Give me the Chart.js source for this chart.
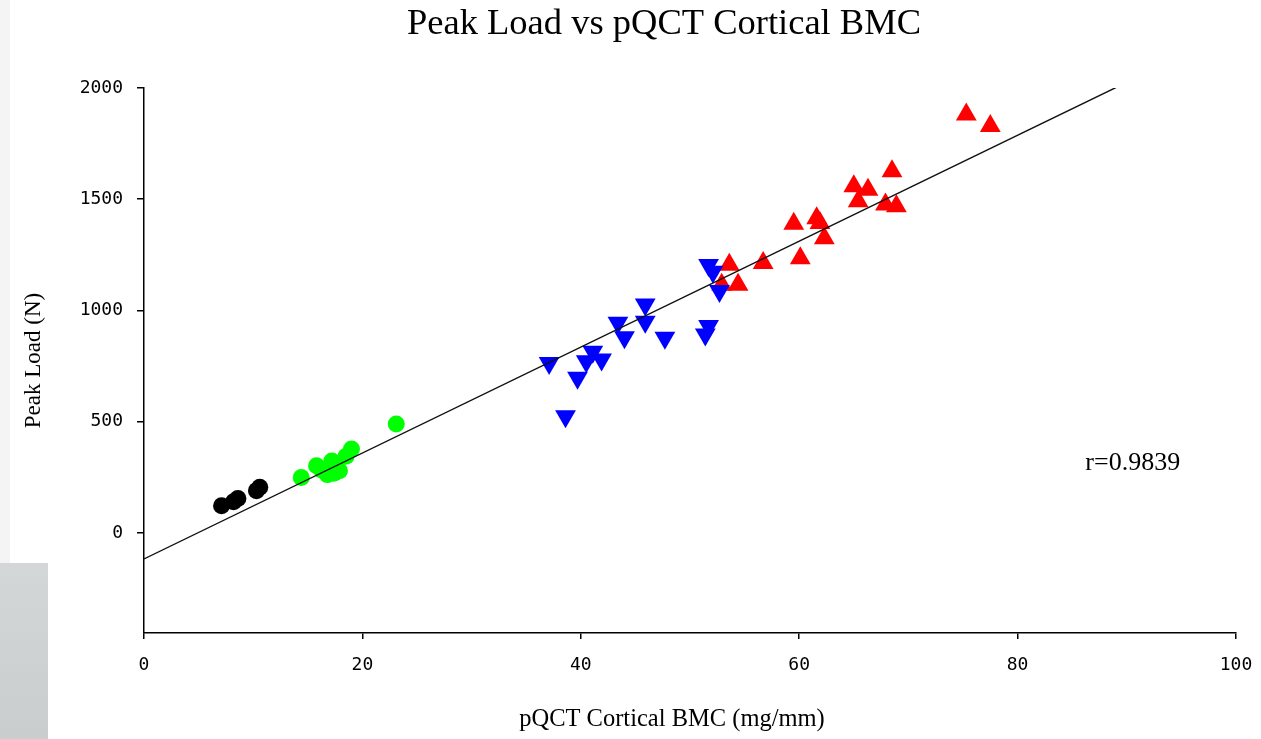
<!DOCTYPE html>
<html>
<head>
<meta charset="utf-8">
<title>Peak Load vs pQCT Cortical BMC</title>
<script src="https://cdn.jsdelivr.net/npm/chart.js@4"></script>
<style>
  html, body { margin: 0; padding: 0; background: #fff; }
  #wrap { position: relative; width: 1261px; height: 739px; overflow: hidden; }
  .strip { position: absolute; left: 0; top: 0; width: 10px; height: 563px; background: #f4f4f4; }
  .box { position: absolute; left: 0; top: 563px; width: 48px; height: 176px; background: linear-gradient(#d4d7d8, #c9cdce); }
  #chart { position: absolute; left: 0; top: 0; }
</style>
</head>
<body>
<div id="wrap">
  <div class="strip"></div>
  <div class="box"></div>
  <canvas id="chart" width="1261" height="739"></canvas>
</div>
<script>
// groups (BMC in mg/mm, load in N)
const blackX = [7.1, 8.2, 8.6, 10.3, 10.6];
const blackY = [122, 140, 155, 190, 205];

const greenX = [14.4, 15.8, 16.3, 16.8, 17.2, 17.4, 17.9, 18.5, 19.0, 23.1];
const greenY = [249, 302, 282, 262, 323, 268, 279, 345, 377, 490];

const blueX = [37.1, 38.6, 39.7, 40.5, 41.1, 41.9, 43.4, 44.0, 45.9, 45.9, 47.7, 51.7, 51.4, 51.7, 52.1, 52.7];
const blueY = [764, 524, 697, 772, 814, 779, 945, 880, 1027, 949, 877, 930, 892, 1204, 1174, 1087];

const redX = [53.6, 52.9, 54.4, 56.7, 60.1, 59.5, 61.6, 61.9, 62.3, 65.0, 66.3, 65.4, 67.9, 68.9, 68.5, 75.3, 77.5];
const redY = [1205, 1115, 1115, 1213, 1235, 1390, 1415, 1393, 1325, 1558, 1543, 1491, 1476, 1468, 1626, 1881, 1829];

// regression line end points
const fitX = [0, 89];
const fitY = [-117, 2002];

const xTicks = [0, 20, 40, 60, 80, 100];
const yTicks = [0, 500, 1000, 1500, 2000];

const titleText = 'Peak Load vs pQCT Cortical BMC';
const xTitle = 'pQCT Cortical BMC (mg/mm)';
const yTitle = 'Peak Load (N)';
const rLabel = 'r=0.9839';

const pts = (xs, ys) => xs.map((x, i) => ({ x: x, y: ys[i] }));

const serif = '"Liberation Serif", "Times New Roman", serif';
const tickFont = { family: '"DejaVu Sans Mono", monospace', size: 18 };

const textPlugin = {
    id: 'chartTexts',
    afterDraw(chart) {
        const ctx = chart.ctx;
        const { x, y } = chart.scales;
        ctx.save();
        ctx.fillStyle = '#000';
        ctx.textAlign = 'center';
        ctx.textBaseline = 'middle';
        ctx.font = '36.5px ' + serif;
        ctx.fillText(titleText, 664, 24);
        ctx.font = '24.5px ' + serif;
        ctx.fillText(xTitle, 672, 720);
        ctx.textAlign = 'left';
        ctx.font = '26px ' + serif;
        ctx.fillText(rLabel, x.getPixelForValue(86.2), y.getPixelForValue(315));
        ctx.restore();
    }
};

const marker = (color, style, rot, r) => ({
    backgroundColor: color,
    borderColor: color,
    borderWidth: 0,
    pointStyle: style,
    rotation: rot,
    pointRadius: r,
    pointHoverRadius: r
});

new Chart(document.getElementById('chart'), {
    type: 'scatter',
    data: {
        datasets: [
            {
                label: 'fit',
                data: pts(fitX, fitY),
                showLine: true,
                borderColor: '#111',
                borderWidth: 1.4,
                pointRadius: 0,
                pointHoverRadius: 0
            },
            { label: 'black', data: pts(blackX, blackY), ...marker('#000000', 'circle', 0, 8.5) },
            { label: 'green', data: pts(greenX, greenY), ...marker('#00ff00', 'circle', 0, 8.5) },
            { label: 'blue', data: pts(blueX, blueY), ...marker('#0000ff', 'triangle', 180, 12) },
            { label: 'red', data: pts(redX, redY), ...marker('#ff0000', 'triangle', 0, 12) }
        ]
    },
    options: {
        responsive: false,
        animation: false,
        layout: { padding: { top: 88, right: 25, left: 0, bottom: 0 } },
        plugins: {
            legend: { display: false },
            tooltip: { enabled: false }
        },
        scales: {
            x: {
                type: 'linear',
                min: 0,
                max: 100,
                afterBuildTicks: s => { s.ticks = xTicks.map(v => ({ value: v })); },
                afterFit: s => { s.height = 106; s.paddingLeft = 0; s.paddingRight = 0; },
                ticks: { font: tickFont, color: '#000', padding: 16, maxRotation: 0, callback: v => String(v) },
                grid: { drawOnChartArea: false, drawTicks: true, tickLength: 6, color: '#000', lineWidth: 1.5 },
                border: { display: true, color: '#000', width: 1.5 }
            },
            y: {
                type: 'linear',
                min: -450,
                max: 2000,
                afterBuildTicks: s => { s.ticks = yTicks.map(v => ({ value: v })); },
                afterFit: s => { s.width = 144; },
                ticks: { font: tickFont, color: '#000', padding: 14, callback: v => String(v) },
                grid: { drawOnChartArea: false, drawTicks: true, tickLength: 7, color: '#000', lineWidth: 1.5 },
                border: { display: true, color: '#000', width: 1.5 },
                title: {
                    display: true,
                    text: yTitle,
                    color: '#000',
                    font: { family: serif, size: 23 },
                    padding: { top: 20, bottom: 0 }
                }
            }
        }
    },
    plugins: [textPlugin]
});
</script>
</body>
</html>
